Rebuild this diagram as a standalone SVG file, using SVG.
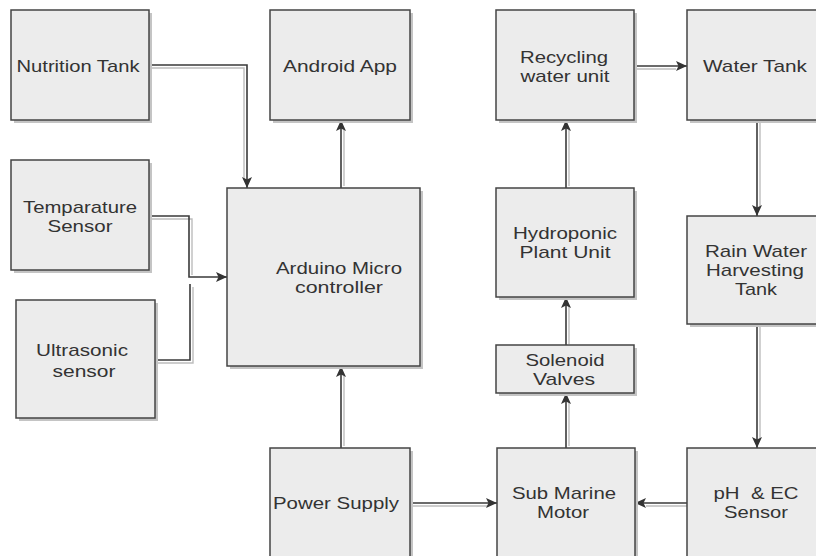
<svg xmlns="http://www.w3.org/2000/svg" width="816" height="556" viewBox="0 0 816 556">
<style>
.box{fill:#ececec;stroke:#444;stroke-width:1.5}
.sh{fill:#c4c4c4}
.t{font-family:"Liberation Sans",Arial,sans-serif;font-size:17px;fill:#333;text-anchor:middle}
.c{fill:none;stroke:#3a3a3a;stroke-width:1.6}
.cs{fill:none;stroke:#bdbdbd;stroke-width:1.4}
</style>
<defs>
<marker id="ah" markerUnits="userSpaceOnUse" markerWidth="12" markerHeight="12" viewBox="0 0 12 12" refX="11" refY="6" orient="auto">
<path d="M0,1 L11,6 L0,11 L2.5,6 Z" fill="#333"/>
</marker>
</defs>
<rect width="816" height="556" fill="#fff"/>

<g id="connectors">
<!-- shadow lines -->
<path class="cs" d="M149,68 H244 V180"/>
<path class="cs" d="M344,186 V130"/>
<path class="cs" d="M149,219 H192 V275"/>
<path class="cs" d="M155,363 H193 V287"/>
<path class="cs" d="M344,446 V376"/>
<path class="cs" d="M410,506 H488"/>
<path class="cs" d="M687,506 H646"/>
<path class="cs" d="M569,446 V402"/>
<path class="cs" d="M569,344 V306"/>
<path class="cs" d="M569,186 V130"/>
<path class="cs" d="M634,69 H676"/>
<path class="cs" d="M760,120 V206"/>
<path class="cs" d="M760,324 V438"/>
<!-- main lines -->
<path class="c" d="M149,65 H247 V188" marker-end="url(#ah)"/>
<path class="c" d="M341,188 V120" marker-end="url(#ah)"/>
<path class="c" d="M149,216 H189 V277 H227" marker-end="url(#ah)"/>
<path class="c" d="M155,360 H190 V284"/>
<path class="c" d="M341,448 V366" marker-end="url(#ah)"/>
<path class="c" d="M410,503 H497" marker-end="url(#ah)"/>
<path class="c" d="M687,503 H635" marker-end="url(#ah)"/>
<path class="c" d="M566,448 V393" marker-end="url(#ah)"/>
<path class="c" d="M566,345 V297" marker-end="url(#ah)"/>
<path class="c" d="M566,188 V120" marker-end="url(#ah)"/>
<path class="c" d="M634,66 H687" marker-end="url(#ah)"/>
<path class="c" d="M757,120 V216" marker-end="url(#ah)"/>
<path class="c" d="M757,324 V448" marker-end="url(#ah)"/>
</g>

<g id="nutrition-tank">
<rect class="sh" x="14" y="13" width="138" height="110"/>
<rect class="box" x="11" y="10" width="138" height="110"/>
<text class="t" x="78" y="72" textLength="123" lengthAdjust="spacingAndGlyphs">Nutrition Tank</text>
</g>

<g id="android-app">
<rect class="sh" x="273" y="13" width="140" height="110"/>
<rect class="box" x="270" y="10" width="140" height="110"/>
<text class="t" x="340" y="72" textLength="114" lengthAdjust="spacingAndGlyphs">Android App</text>
</g>

<g id="temperature-sensor">
<rect class="sh" x="14" y="163" width="138" height="110"/>
<rect class="box" x="11" y="160" width="138" height="110"/>
<text class="t" x="80" y="213" textLength="114" lengthAdjust="spacingAndGlyphs">Temparature</text>
<text class="t" x="80" y="232" textLength="65" lengthAdjust="spacingAndGlyphs">Sensor</text>
</g>

<g id="ultrasonic-sensor">
<rect class="sh" x="19" y="303" width="139" height="118"/>
<rect class="box" x="16" y="300" width="139" height="118"/>
<text class="t" x="82" y="356" textLength="92" lengthAdjust="spacingAndGlyphs">Ultrasonic</text>
<text class="t" x="84" y="377" textLength="63" lengthAdjust="spacingAndGlyphs">sensor</text>
</g>

<g id="arduino">
<rect class="sh" x="230" y="191" width="193" height="178"/>
<rect class="box" x="227" y="188" width="193" height="178"/>
<text class="t" x="339" y="274" textLength="126" lengthAdjust="spacingAndGlyphs">Arduino Micro</text>
<text class="t" x="339" y="293" textLength="88" lengthAdjust="spacingAndGlyphs">controller</text>
</g>

<g id="power-supply">
<rect class="sh" x="273" y="451" width="140" height="110"/>
<rect class="box" x="270" y="448" width="140" height="110"/>
<text class="t" x="336" y="509" textLength="126" lengthAdjust="spacingAndGlyphs">Power Supply</text>
</g>

<g id="sub-marine-motor">
<rect class="sh" x="500" y="451" width="138" height="110"/>
<rect class="box" x="497" y="448" width="138" height="110"/>
<text class="t" x="564" y="499" textLength="104" lengthAdjust="spacingAndGlyphs">Sub Marine</text>
<text class="t" x="563" y="518" textLength="52" lengthAdjust="spacingAndGlyphs">Motor</text>
</g>

<g id="ph-ec-sensor">
<rect class="sh" x="690" y="451" width="140" height="110"/>
<rect class="box" x="687" y="448" width="140" height="110"/>
<text class="t" x="756" y="499" textLength="85" lengthAdjust="spacingAndGlyphs" xml:space="preserve">pH  &amp; EC</text>
<text class="t" x="756" y="518" textLength="64" lengthAdjust="spacingAndGlyphs">Sensor</text>
</g>

<g id="solenoid-valves">
<rect class="sh" x="499" y="348" width="138" height="48"/>
<rect class="box" x="496" y="345" width="138" height="48"/>
<text class="t" x="565" y="366" textLength="79" lengthAdjust="spacingAndGlyphs">Solenoid</text>
<text class="t" x="564" y="385" textLength="62" lengthAdjust="spacingAndGlyphs">Valves</text>
</g>

<g id="hydroponic-plant-unit">
<rect class="sh" x="499" y="191" width="138" height="109"/>
<rect class="box" x="496" y="188" width="138" height="109"/>
<text class="t" x="565" y="239" textLength="104" lengthAdjust="spacingAndGlyphs">Hydroponic</text>
<text class="t" x="565" y="258" textLength="91" lengthAdjust="spacingAndGlyphs">Plant Unit</text>
</g>

<g id="recycling-water-unit">
<rect class="sh" x="499" y="13" width="138" height="110"/>
<rect class="box" x="496" y="10" width="138" height="110"/>
<text class="t" x="564" y="63" textLength="88" lengthAdjust="spacingAndGlyphs">Recycling</text>
<text class="t" x="565" y="82" textLength="89" lengthAdjust="spacingAndGlyphs">water unit</text>
</g>

<g id="water-tank">
<rect class="sh" x="690" y="13" width="140" height="110"/>
<rect class="box" x="687" y="10" width="140" height="110"/>
<text class="t" x="755" y="72" textLength="104" lengthAdjust="spacingAndGlyphs">Water Tank</text>
</g>

<g id="rain-water-harvesting-tank">
<rect class="sh" x="690" y="219" width="140" height="108"/>
<rect class="box" x="687" y="216" width="140" height="108"/>
<text class="t" x="756" y="257" textLength="102" lengthAdjust="spacingAndGlyphs">Rain Water</text>
<text class="t" x="755" y="276" textLength="98" lengthAdjust="spacingAndGlyphs">Harvesting</text>
<text class="t" x="756" y="295" textLength="42" lengthAdjust="spacingAndGlyphs">Tank</text>
</g>
</svg>
